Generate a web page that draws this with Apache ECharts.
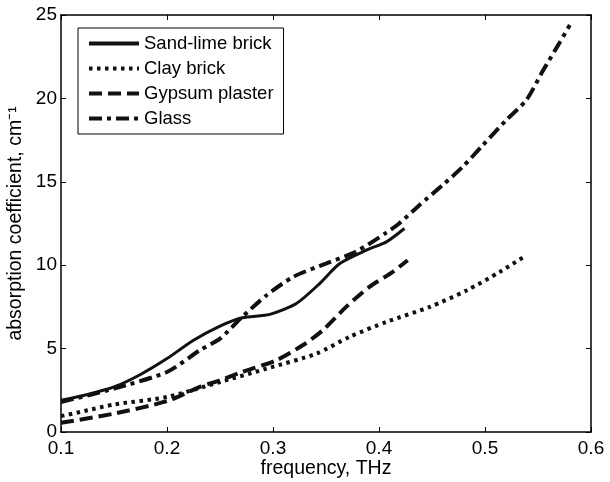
<!DOCTYPE html>
<html>
<head>
<meta charset="utf-8">
<script src="https://cdn.jsdelivr.net/npm/echarts@6/dist/echarts.min.js"></script>
<style>html,body{margin:0;padding:0;background:#fff}#c{width:610px;height:482px}</style>
</head>
<body>
<div id="c"></div>
<script>
const seriesNames = ["Sand-lime brick", "Clay brick", "Gypsum plaster", "Glass"];
const sandLime = [[0.1,1.9],[0.125,2.25],[0.15,2.7],[0.175,3.45],[0.2,4.4],[0.225,5.5],[0.25,6.35],[0.271,6.85],[0.297,7.05],[0.322,7.7],[0.344,8.9],[0.363,10.1],[0.388,10.9],[0.407,11.4],[0.424,12.2]];
const clayBrick = [[0.1,0.95],[0.125,1.3],[0.15,1.65],[0.2,2.1],[0.25,3.0],[0.294,3.8],[0.341,4.7],[0.372,5.7],[0.407,6.6],[0.448,7.5],[0.483,8.5],[0.514,9.6],[0.539,10.6]];
const gypsum = [[0.1,0.55],[0.15,1.1],[0.2,1.85],[0.231,2.7],[0.25,3.1],[0.271,3.6],[0.303,4.3],[0.328,5.2],[0.347,6.1],[0.369,7.5],[0.391,8.7],[0.413,9.6],[0.427,10.3]];
const glass = [[0.1,1.8],[0.15,2.6],[0.2,3.6],[0.231,4.9],[0.25,5.6],[0.271,6.9],[0.294,8.2],[0.319,9.3],[0.35,10.1],[0.378,10.8],[0.407,11.95],[0.419,12.5],[0.438,13.6],[0.46,14.8],[0.479,15.9],[0.498,17.2],[0.52,18.7],[0.539,19.9],[0.555,21.7],[0.57,23.3],[0.58,24.4]];
const xTicks = [0.1,0.2,0.3,0.4,0.5,0.6];
const yTicks = [0,5,10,15,20,25];

const dashes = [null, [3.5,4.5], [13,6], [13,5,4,5]];
const datasets = [sandLime, clayBrick, gypsum, glass];
const font = "Liberation Sans";
const fs = 19;

const chart = echarts.init(document.getElementById('c'), null, {renderer:'canvas'});
const axisCommon = {
  axisLine:{show:true,onZero:false,lineStyle:{color:'#000',width:1.5}},
  axisTick:{show:true,inside:true,length:5,lineStyle:{color:'#000',width:1}},
  splitLine:{show:false}
};
chart.setOption({
  animation:false,
  backgroundColor:'#fff',
  grid:{left:61,right:19,top:15,bottom:50,containLabel:false,outerBoundsMode:'none'},
  legend:{
    show:true, orient:'vertical', left:78, top:28,
    data:seriesNames,
    itemWidth:50, itemHeight:14, itemGap:6,
    padding:[6,10,6,9],
    borderColor:'#000', borderWidth:1, backgroundColor:'#fff',
    itemStyle:{opacity:0},
    lineStyle:{width:4},
    textStyle:{fontFamily:font,fontSize:18.5,lineHeight:19,color:'#000'},
    selectedMode:false
  },
  xAxis:[
    Object.assign({type:'value',min:0.1,max:0.6,interval:0.1,position:'bottom',
      name:'frequency, THz',nameLocation:'middle',nameGap:27,nameMoveOverlap:false,
      nameTextStyle:{fontFamily:font,fontSize:19.5,color:'#000'},
      axisLabel:{fontFamily:font,fontSize:fs,color:'#000',margin:7,
        formatter:v=>{const t=xTicks.find(x=>Math.abs(x-v)<1e-6);return t===undefined?'':t.toFixed(1);}}
    },axisCommon),
    Object.assign({type:'value',min:0.1,max:0.6,interval:0.1,position:'top',axisLabel:{show:false}},axisCommon)
  ],
  yAxis:[
    Object.assign({type:'value',min:0,max:25,interval:5,position:'left',
      name:'absorption coefficient, cm\u207B\u00B9',nameLocation:'middle',nameGap:35,nameMoveOverlap:false,
      nameTextStyle:{fontFamily:font,fontSize:19.5,color:'#000'},
      axisLabel:{fontFamily:font,fontSize:fs,color:'#000',margin:4,
        formatter:v=>{const t=yTicks.find(x=>Math.abs(x-v)<1e-6);return t===undefined?'':String(t);}}
    },axisCommon),
    Object.assign({type:'value',min:0,max:25,interval:5,position:'right',axisLabel:{show:false}},axisCommon)
  ],
  series: seriesNames.map((n,i)=>({
    name:n, type:'line', data:datasets[i], smooth:0.25, symbol:'none', showSymbol:false,
    color:'#111',
    lineStyle:{color:'#111',width:i===0?3:4,type:dashes[i]||'solid',cap:'butt'},
    z: 3
  }))
});
</script>
</body>
</html>
